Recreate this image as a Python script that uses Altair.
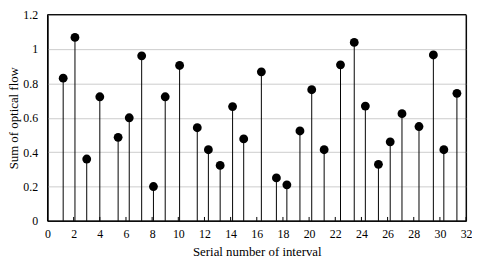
import altair as alt
import pandas as pd

# Interval positions (x) and optical-flow sums (y)
positions = [1.2, 2.1, 3.0, 4.0, 5.4, 6.25, 7.2, 8.1, 9.0, 10.1,
             11.45, 12.3, 13.2, 14.15, 15.0, 16.35, 17.5, 18.3, 19.3, 20.2,
             21.15, 22.4, 23.45, 24.3, 25.3, 26.2, 27.1, 28.4, 29.5, 30.3, 31.3]
values = [0.83, 1.067, 0.36, 0.722, 0.486, 0.60, 0.96, 0.20, 0.722, 0.904,
          0.542, 0.414, 0.323, 0.665, 0.477, 0.867, 0.25, 0.21, 0.523, 0.763,
          0.414, 0.908, 1.038, 0.668, 0.329, 0.46, 0.624, 0.549, 0.965, 0.414, 0.742]
x_ticks = list(range(0, 33, 2))
y_ticks = [0, 0.2, 0.4, 0.6, 0.8, 1.0, 1.2]

df = pd.DataFrame({"x": positions, "y": values})
ticks_df = pd.DataFrame({"x": x_ticks})

W, H = 424, 209
FONT = "Liberation Serif"

xscale = alt.Scale(domain=[0, 32], nice=False, zero=False)
yscale = alt.Scale(domain=[0, 1.2], nice=False)

common = dict(labelFont=FONT, titleFont=FONT, labelFontSize=12, titleFontSize=13,
              titleFontWeight="normal", labelColor="#000000", titleColor="#000000",
              domainColor="#000000", domainWidth=1, ticks=False,
              labelOverlap=False, labelFlush=False)

xaxis = alt.Axis(values=x_ticks, title="Serial number of interval",
                 grid=False, labelPadding=8, titlePadding=6, **common)
yaxis = alt.Axis(values=y_ticks, format="~g", title="Sum of optical flow",
                 grid=True, gridColor="#cccccc", gridWidth=1, gridOpacity=1,
                 labelPadding=10, titlePadding=2, **common)

base = alt.Chart(df).encode(
    x=alt.X("x:Q", scale=xscale, axis=xaxis),
    y=alt.Y("y:Q", scale=yscale, axis=yaxis),
)

stems = base.mark_rule(color="#000000", strokeWidth=1).encode(y2=alt.datum(0))
dots = base.mark_circle(color="#000000", size=80, opacity=1)

inner_ticks = alt.Chart(ticks_df).mark_rule(color="#000000", strokeWidth=1).encode(
    x=alt.X("x:Q", scale=xscale, axis=xaxis),
    y=alt.value(H),
    y2=alt.value(H - 4),
)

frame = alt.Chart(ticks_df.head(1)).mark_rect(
    fill=None, fillOpacity=0, stroke="#000000", strokeWidth=1
).encode(
    x=alt.value(0), x2=alt.value(W), y=alt.value(0), y2=alt.value(H),
)

chart = alt.layer(stems, dots, inner_ticks, frame).properties(
    width=W, height=H,
    autosize=alt.AutoSizeParams(type="none"),
    padding={"left": 40, "top": 5, "right": 6, "bottom": 45},
).configure_view(
    stroke="#000000", strokeWidth=1,
)

chart.save("out.html", embed_options={"renderer": "svg", "actions": False})
